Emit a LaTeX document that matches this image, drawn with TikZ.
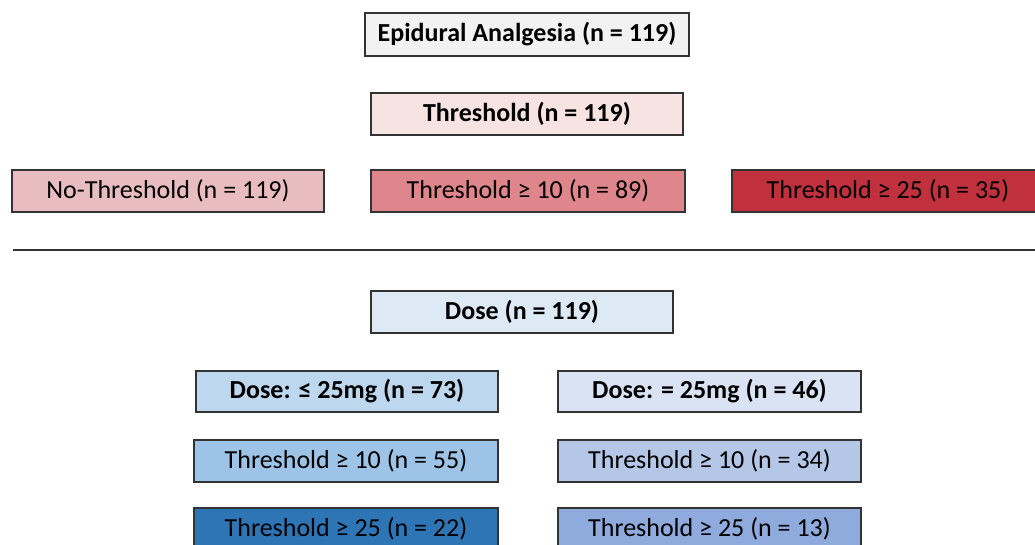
\documentclass[tikz,border=0pt]{standalone}
\usepackage{fontspec}
\setmainfont{Carlito}
\definecolor{cEpi}{HTML}{F2F2F2}
\definecolor{cThr}{HTML}{F8E3E3}
\definecolor{cNo}{HTML}{E9BDBF}
\definecolor{cTen}{HTML}{DE868B}
\definecolor{cTwf}{HTML}{C0303D}
\definecolor{cDose}{HTML}{DEE9F6}
\definecolor{cDl}{HTML}{BDD7EE}
\definecolor{cDlten}{HTML}{9DC3E6}
\definecolor{cDltwf}{HTML}{2E75B6}
\definecolor{cDe}{HTML}{DAE3F3}
\definecolor{cDeten}{HTML}{B4C7E7}
\definecolor{cDetwf}{HTML}{8FAADC}
\tikzset{
  box/.style={draw=black!80, line width=1.2pt, inner sep=0pt, font=\fontsize{26}{30}\selectfont},
  bbox/.style={box, font=\fontsize{26}{30}\selectfont\bfseries},
}
\begin{document}
\begin{tikzpicture}[x=1pt,y=-1pt]
\useasboundingbox (0,0) rectangle (1035,545);
\node[bbox, fill=cEpi, minimum width=324pt, minimum height=43pt] (epi) at (527,34.5) {Epidural Analgesia (n = 119)};
\node[bbox, fill=cThr, minimum width=312pt, minimum height=42pt] (thr) at (527,114) {Threshold (n = 119)};
\node[box, fill=cNo, minimum width=312pt, minimum height=42pt] (no) at (168,191) {No-Threshold (n = 119)};
\node[box, fill=cTen, minimum width=314pt, minimum height=42pt] (ten) at (528,191) {Threshold ≥ 10 (n = 89)};
\node[box, fill=cTwf, minimum width=312pt, minimum height=42pt] (twf) at (888,191) {Threshold ≥ 25 (n = 35)};
\coordinate (la) at (13,250);
\coordinate (lb) at (1035,250);
\draw[black!80, line width=1.2pt] (la) -- (lb);
\node[bbox, fill=cDose, minimum width=302pt, minimum height=42pt] (dose) at (522,312) {Dose (n = 119)};
\node[bbox, fill=cDl, minimum width=302pt, minimum height=41pt] (dl) at (347,391.5) {Dose: ≤ 25mg (n = 73)};
\node[box, fill=cDlten, minimum width=304pt, minimum height=42pt] (dlten) at (346,461) {Threshold ≥ 10 (n = 55)};
\node[box, fill=cDltwf, minimum width=304pt, minimum height=42pt] (dltwf) at (346,529) {Threshold ≥ 25 (n = 22)};
\node[bbox, fill=cDe, minimum width=303pt, minimum height=41pt] (de) at (709.5,391.5) {Dose: = 25mg (n = 46)};
\node[box, fill=cDeten, minimum width=303pt, minimum height=42pt] (deten) at (709.5,461) {Threshold ≥ 10 (n = 34)};
\node[box, fill=cDetwf, minimum width=303pt, minimum height=42pt] (detwf) at (709.5,529) {Threshold ≥ 25 (n = 13)};
\end{tikzpicture}
\end{document}
